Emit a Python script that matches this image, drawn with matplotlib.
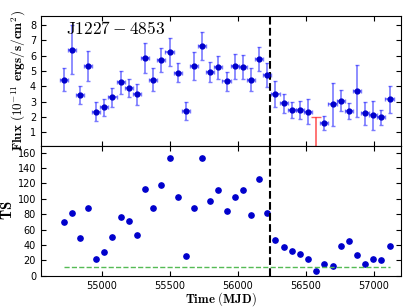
#!/usr/bin/env python3
"""Fermi-LAT light curve of J1227-4853: flux and TS per 60-day bin."""

import matplotlib
matplotlib.use("Agg")
import matplotlib.pyplot as plt
import numpy as np

# bin centres (MJD), 60-day bins
mjd = [54717, 54777, 54837, 54897, 54957, 55017, 55077, 55137, 55197, 55257,
       55317, 55377, 55437, 55497, 55557, 55617, 55677, 55737, 55797, 55857,
       55917, 55977, 56037, 56097, 56157, 56217, 56277, 56337, 56397, 56457,
       56517, 56577, 56637, 56697, 56757, 56817, 56877, 56937, 56997, 57057,
       57117]
half_bin = 30

flux = [4.43, 6.37, 3.42, 5.32, 2.34, 2.64, 3.27, 4.27, 3.88, 3.47,
        5.82, 4.43, 5.71, 6.24, 4.89, 2.40, 5.30, 6.63, 4.93, 5.24,
        4.32, 5.30, 5.26, 4.41, 5.80, 4.76, 3.47, 2.88, 2.44, 2.47,
        2.34, None, 1.62, 2.82, 3.06, 2.36, 3.67, 2.25, 2.12, 1.99,
        3.14]
flux_err = [0.75, 1.6, 0.6, 0.97, 0.63, 0.55, 0.62, 0.75, 0.6, 0.67,
            0.97, 0.73, 0.8, 0.9, 0.64, 0.58, 0.92, 0.9, 0.65, 0.74,
            0.63, 0.8, 0.76, 0.75, 0.78, 0.78, 0.85, 0.61, 0.53, 0.57,
            0.8, None, 0.44, 1.4, 0.7, 0.52, 1.7, 0.75, 0.95, 0.49,
            0.88]

# upper limit bin
ul_mjd = 56577
ul_flux = 2.0

ts = [69.4, 82, 49.4, 87.6, 22, 31.2, 50, 76, 70.7, 52.5,
      112.3, 88.4, 117.5, 153.5, 102.3, 26, 88.4, 153, 97, 111,
      83.7, 102.7, 111.4, 78.5, 125.3, 81.5, 46.4, 37.7, 31.7, 27.8,
      21.3, 6.5, 15.2, 12.6, 38.6, 44.7, 26.9, 15.2, 21.7, 20.8,
      38.6]
ts_threshold = 11.5
transition_mjd = 56235

plt.rcParams["mathtext.fontset"] = "cm"
plt.rcParams["xtick.direction"] = "in"
plt.rcParams["ytick.direction"] = "in"
plt.rcParams["xtick.top"] = True
plt.rcParams["ytick.right"] = True
plt.rcParams["font.size"] = 7

fig, (ax1, ax2) = plt.subplots(2, 1, figsize=(4.09, 3.07), dpi=100, sharex=True)
fig.subplots_adjust(left=0.100, right=0.980, top=0.949, bottom=0.102, hspace=0)

det = [i for i, f in enumerate(flux) if f is not None]
x_det = np.array(mjd)[det]
f_det = np.array([flux[i] for i in det])
e_det = np.array([flux_err[i] for i in det])

ax1.errorbar(x_det, f_det, yerr=e_det, xerr=half_bin, fmt="o", color="#0000cc",
             ms=3.5, mec="#0000cc", ecolor=(0.2, 0.2, 1.0, 0.65), elinewidth=1.2,
             capsize=1.5, capthick=1.0)
ax1.errorbar([ul_mjd], [ul_flux], yerr=[[ul_flux], [0]], fmt="none",
             ecolor=(1.0, 0.2, 0.2, 0.8), elinewidth=1.2, capsize=3.5, capthick=1.0)
ax1.axvline(transition_mjd, color="k", ls="--", lw=1.5)
ax1.set_ylim(0.13, 8.6)
ax1.set_yticks(range(1, 9))
ax1.set_ylabel(r"$\mathbf{Flux\ (10^{-11}\ ergs/s/cm^2)}$", fontsize=9.5, labelpad=1)
ax1.text(0.07, 0.965, r"$\mathrm{J1227-4853}$", transform=ax1.transAxes,
         fontsize=12.5, va="top", ha="left")
ax1.tick_params(labelbottom=False)

ax2.plot(mjd, ts, "o", color="#0000cc", ms=3.8)
ax2.plot(mjd, [ts_threshold] * len(mjd), ls="--", color="#55bb55", lw=1.0)
ax2.axvline(transition_mjd, color="k", ls="--", lw=1.5)
ax2.set_ylim(0, 169)
ax2.set_yticks(range(0, 161, 20))
ax2.set_xlim(54550, 57200)
ax2.set_xticks(range(55000, 57001, 500))
ax2.set_ylabel(r"$\mathbf{TS}$", fontsize=10.5, labelpad=2)
ax2.set_xlabel(r"$\mathbf{Time\ (MJD)}$", fontsize=9.2, labelpad=0)

fig.savefig("out.png", dpi=100)
